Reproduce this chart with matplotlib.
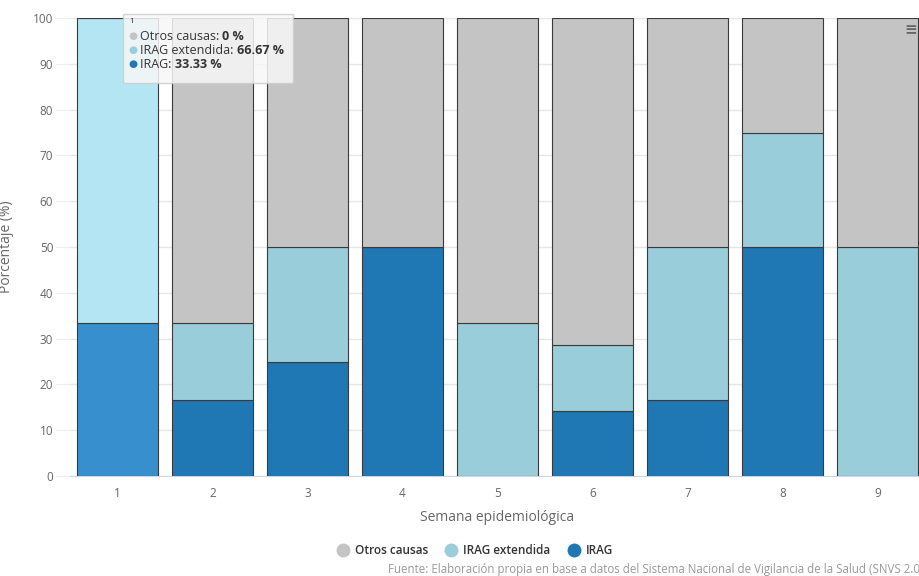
import numpy as np
import matplotlib.pyplot as plt
from matplotlib.patches import FancyBboxPatch

plt.rcParams['font.family'] = ['Open Sans', 'DejaVu Sans']

# data (percent of cases per epidemiological week)
weeks = ['1', '2', '3', '4', '5', '6', '7', '8', '9']
irag = [33.33, 16.67, 25.0, 50.0, 0.0, 14.29, 16.67, 50.0, 0.0]
irag_ext = [66.67, 16.67, 25.0, 0.0, 33.33, 14.29, 33.33, 25.0, 50.0]
otros = [0.0, 66.67, 50.0, 50.0, 66.67, 71.43, 50.0, 25.0, 50.0]

c_otros = '#c4c4c4'
c_ext = '#99cdd9'
c_irag = '#1f77b4'
# hovered column is drawn lighter
c_ext_hi = '#b3e6f2'
c_irag_hi = '#388fcd'

fig = plt.figure(figsize=(9.19, 5.76), dpi=100)
ax = fig.add_axes([70 / 919, 100 / 576, 855 / 919, 458 / 576])

x = np.arange(len(weeks))
irag_a = np.array(irag)
ext_a = np.array(irag_ext)
otros_a = np.array(otros)

col_irag = [c_irag_hi if i == 0 else c_irag for i in range(len(weeks))]
col_ext = [c_ext_hi if i == 0 else c_ext for i in range(len(weeks))]

w = 0.86
kw = dict(width=w, edgecolor='#3a3a3a', linewidth=0.8, zorder=3)
ax.bar(x, irag_a, color=col_irag, **kw)
ax.bar(x, ext_a, bottom=irag_a, color=col_ext, **kw)
ax.bar(x, otros_a, bottom=irag_a + ext_a, color=c_otros, **kw)

ax.set_xlim(-0.5, len(weeks) - 0.5)
ax.set_ylim(0, 100)
ax.set_yticks(np.arange(0, 101, 10))
ax.set_xticks(x)
ax.set_xticklabels(weeks)
ax.grid(axis='y', color='#e6e6e6', linewidth=1, zorder=0)
for s in ['top', 'right', 'left']:
    ax.spines[s].set_visible(False)
ax.spines['bottom'].set_color('#ccd6eb')
ax.tick_params(axis='y', length=10, color='#eeeeee', labelcolor='#666666', labelsize=8.5, pad=2)
ax.tick_params(axis='x', length=0, labelcolor='#666666', labelsize=8.5, pad=8)

ax.set_ylabel('Porcentaje (%)', color='#666666', fontsize=10, labelpad=14)
ax.set_xlabel('Semana epidemiológica', color='#666666', fontsize=10, labelpad=7)

# tooltip for week 1
tip = FancyBboxPatch((123 / 919, 1 - 83 / 576), 170 / 919, 69 / 576,
                     boxstyle='square,pad=0', transform=fig.transFigure,
                     facecolor='#f7f7f7', edgecolor='#cccccc', alpha=0.85,
                     linewidth=1, zorder=10)
fig.patches.append(tip)
fig.text(129 / 919, 1 - 23 / 576, weeks[0], fontsize=6, color='#333333', zorder=11)
tip_rows = [('Otros causas: ', otros[0], c_otros),
            ('IRAG extendida: ', irag_ext[0], c_ext),
            ('IRAG: ', irag[0], c_irag)]
for i, (name, val, col) in enumerate(tip_rows):
    yy = 1 - (36 + i * 14.5) / 576
    fig.text(133 / 919, yy, '\u25cf', color=col, fontsize=7.5, va='center', ha='center', zorder=11)
    t = fig.text(140 / 919, yy, name, color='#333333', fontsize=9, va='center', zorder=11)
    fig.canvas.draw()
    bb = t.get_window_extent()
    fig.text(bb.x1 / 919, yy, f'{val:g} %', color='#333333', fontsize=9,
             fontweight='bold', va='center', zorder=11)

# legend
leg_items = [('Otros causas', c_otros), ('IRAG extendida', c_ext), ('IRAG', c_irag)]
handles = [plt.Line2D([], [], marker='o', linestyle='', markersize=9, color=c) for _, c in leg_items]
fig.legend(handles, [n for n, _ in leg_items], loc='center', bbox_to_anchor=(472 / 919, 1 - 551 / 576),
           ncol=3, frameon=False, handletextpad=0.0, columnspacing=1.0,
           labelcolor='#333333', prop={'weight': 'semibold', 'size': 8.5})

fig.text(388 / 919, 1 - 570 / 576,
         'Fuente: Elaboración propia en base a datos del Sistema Nacional de Vigilancia de la Salud (SNVS 2.0)',
         color='#999999', fontsize=8.3, va='center')

# export menu icon
fig.text(911 / 919, 1 - 30 / 576, '\u2261', color='#666666', fontsize=11, va='center', ha='center',
         fontweight='bold')

fig.savefig('out.png', dpi=100)
